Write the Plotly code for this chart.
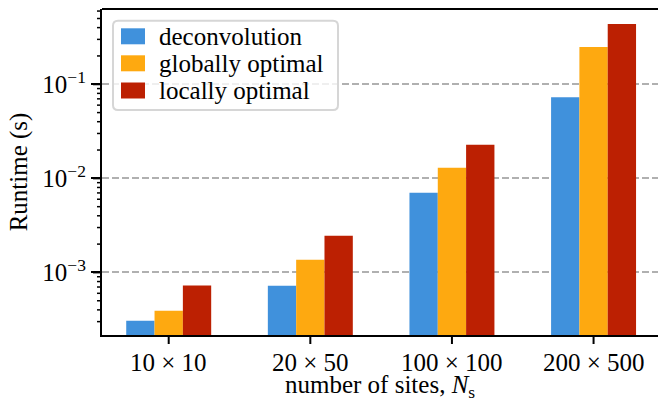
import math
import plotly.graph_objects as go

# Problem sizes (x categories)
sizes = ["10 × 10", "20 × 50", "100 × 100", "200 × 500"]

# Runtimes in seconds for each method
series_names = ["deconvolution", "globally optimal", "locally optimal"]
deconvolution = [3.07e-4, 7.2e-4, 7.05e-3, 7.3e-2]
globally_optimal = [3.92e-4, 1.36e-3, 1.30e-2, 0.249]
locally_optimal = [7.27e-4, 2.45e-3, 2.28e-2, 0.436]
series_values = [deconvolution, globally_optimal, locally_optimal]
series_colors = ["#4091dc", "#fea910", "#bc2002"]

# y tick labels (decades)
ytick_vals = [1e-3, 1e-2, 1e-1]
ytick_text = ["10<sup>−3</sup>", "10<sup>−2</sup>", "10<sup>−1</sup>"]
# minor ticks at 2..9 of each decade
minor_vals = [m * 10.0 ** e for e in (-4, -3, -2, -1) for m in range(2, 10)]

W, H = 658, 401
L, R, T, B = 102, 0, 9, 66
FONT = "Liberation Serif"
FS = 25
XRANGE = [-0.471, 3.455]
YRANGE = [-3.665, -0.20]
plot_w = W - L - R
plot_h = H - T - B


def px_x(p):
    return (p - L) / plot_w


def px_y(p):
    return 1 - (p - T) / plot_h


def yfrac(v):
    # fraction of the plot height for a value on the log axis
    return (math.log10(v) - YRANGE[0]) / (YRANGE[1] - YRANGE[0])


def xfrac(i):
    return (i - XRANGE[0]) / (XRANGE[1] - XRANGE[0])


fig = go.Figure()
for name, vals, col in zip(series_names, series_values, series_colors):
    fig.add_trace(go.Bar(x=sizes, y=vals, name=name, marker=dict(color=col, line=dict(width=0)),
                         showlegend=False))

fig.update_layout(
    width=W, height=H,
    margin=dict(l=L, r=R, t=T, b=B, pad=0),
    paper_bgcolor="white", plot_bgcolor="white",
    barmode="group", bargap=0.4, bargroupgap=0,
    font=dict(family=FONT, size=FS, color="black"),
)

fig.update_xaxes(
    type="category", range=XRANGE,
    showline=True, linecolor="black", linewidth=2.2,
    ticks="", showgrid=False, zeroline=False, showticklabels=False,
)

fig.update_yaxes(
    type="log", range=YRANGE,
    tickvals=ytick_vals, ticktext=ytick_text,
    showline=True, linecolor="black", linewidth=2.2,
    ticks="outside", ticklen=9, tickwidth=2, tickcolor="black",
    showgrid=True, gridcolor="#b0b0b0", gridwidth=2, griddash="7px,3px",
    zeroline=False,
    tickfont=dict(family=FONT, size=FS),
    title=dict(text="Runtime (s)", font=dict(family=FONT, size=FS), standoff=8),
)

# y tick marks (major and minor) just left of the axis line
for v in ytick_vals:
    f = yfrac(v)
    fig.add_shape(type="line", xref="paper", yref="paper", x0=-9 / plot_w, x1=0,
                  y0=f, y1=f, line=dict(color="black", width=2), layer="above")
for v in minor_vals:
    f = yfrac(v)
    if 0 < f < 1:
        fig.add_shape(type="line", xref="paper", yref="paper", x0=-5 / plot_w, x1=0,
                      y0=f, y1=f, line=dict(color="black", width=1.5), layer="above")

# x tick marks below the axis line and their labels
for i, s in enumerate(sizes):
    f = xfrac(i)
    fig.add_shape(type="line", xref="paper", yref="paper", x0=f, x1=f,
                  y0=0, y1=-9 / plot_h, line=dict(color="black", width=2), layer="above")
    fig.add_annotation(xref="paper", yref="paper", x=f, y=px_y(362), xanchor="center", yanchor="middle",
                       text=s, showarrow=False, font=dict(family=FONT, size=FS, color="black"))

# x-axis title
fig.add_annotation(xref="paper", yref="paper", x=0.5, y=px_y(386), xanchor="center", yanchor="middle",
                   text="number of sites, <i>N</i><sub>s</sub>", showarrow=False,
                   font=dict(family=FONT, size=FS, color="black"))

# top spine
fig.add_shape(type="line", xref="paper", yref="paper", x0=0, x1=1, y0=1, y1=1,
              line=dict(color="black", width=2.2))

# legend frame with rounded corners
x0, x1, y0, y1, r = 113, 338, 20.7, 110, 5
path = (f"M {x0 + r},{y0} L {x1 - r},{y0} Q {x1},{y0} {x1},{y0 + r} "
        f"L {x1},{y1 - r} Q {x1},{y1} {x1 - r},{y1} L {x0 + r},{y1} "
        f"Q {x0},{y1} {x0},{y1 - r} L {x0},{y0 + r} Q {x0},{y0} {x0 + r},{y0} Z")


def conv_path(p):
    out = []
    for tok in p.split(" "):
        if "," in tok:
            a, b = tok.split(",")
            out.append(f"{px_x(float(a)):.5f},{px_y(float(b)):.5f}")
        else:
            out.append(tok)
    return " ".join(out)


fig.add_shape(type="path", xref="paper", yref="paper", path=conv_path(path),
              fillcolor="rgba(255,255,255,0.8)", line=dict(color="#d6d6d6", width=2), layer="above")

rows = [36.3, 63.3, 90.5]
for name, col, yc in zip(series_names, series_colors, rows):
    fig.add_shape(type="rect", xref="paper", yref="paper",
                  x0=px_x(121), x1=px_x(145), y0=px_y(yc - 8), y1=px_y(yc + 8),
                  fillcolor=col, line=dict(width=0), layer="above")
    fig.add_annotation(xref="paper", yref="paper", x=px_x(157), y=px_y(yc),
                       xanchor="left", yanchor="middle", text=name, showarrow=False,
                       font=dict(family=FONT, size=FS, color="black"))

fig.write_html("out.html")
